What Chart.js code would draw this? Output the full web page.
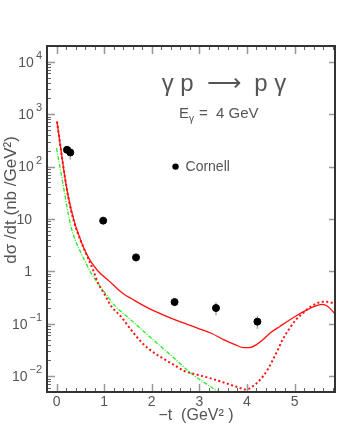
<!DOCTYPE html>
<html>
<head>
<meta charset="utf-8">
<script src="https://cdn.jsdelivr.net/npm/chart.js@4"></script>
<style>
  html, body { margin: 0; padding: 0; background: #fff; }
  #wrap { width: 340px; height: 440px; }
</style>
</head>
<body>
<div id="wrap"><canvas id="chart" width="340" height="440"></canvas></div>
<script>
// Cornell data points (-t in GeV^2, dsigma/dt in nb/GeV^2)
const cornellT = [0.22, 0.29, 0.98, 1.67, 2.48, 3.35, 4.22];
const cornellY = [209, 186, 9.3, 1.85, 0.26, 0.20, 0.11];
const cornellErr = [30, 50, 1.3, 0.3, 0.045, 0.055, 0.03];

// solid red curve
const fullT = [0.01, 0.08, 0.17, 0.25, 0.37, 0.46, 0.58, 0.70, 0.87, 1.10, 1.41, 1.58, 1.80, 2.06, 2.48, 2.96, 3.25, 3.51, 3.75, 3.93, 4.05, 4.20, 4.34, 4.50, 4.69, 5.03, 5.25, 5.48, 5.58, 5.70, 5.86];
const fullY = [724, 251, 68, 26, 9.1, 5.2, 2.7, 1.66, 1.02, 0.66, 0.37, 0.30, 0.23, 0.174, 0.120, 0.083, 0.066, 0.050, 0.040, 0.035, 0.035, 0.040, 0.050, 0.068, 0.089, 0.141, 0.182, 0.224, 0.234, 0.214, 0.151];

// dotted red curve
const dotT = [0.01, 0.08, 0.17, 0.25, 0.37, 0.50, 0.65, 0.78, 0.87, 1.00, 1.13, 1.37, 1.58, 1.79, 2.00, 2.27, 2.50, 2.68, 2.96, 3.31, 3.65, 3.85, 3.96, 4.05, 4.13, 4.22, 4.34, 4.45, 4.55, 4.65, 4.75, 4.90, 5.03, 5.17, 5.31, 5.45, 5.58, 5.68, 5.79, 5.86];
const dotY = [724, 251, 68, 25, 8.7, 4.0, 1.9, 1.0, 0.60, 0.38, 0.23, 0.132, 0.074, 0.044, 0.030, 0.021, 0.0158, 0.0126, 0.0107, 0.0087, 0.0069, 0.0060, 0.0056, 0.0058, 0.0065, 0.0076, 0.0100, 0.0141, 0.021, 0.032, 0.050, 0.083, 0.120, 0.158, 0.204, 0.240, 0.263, 0.263, 0.251, 0.240];

// green dash-dotted curve
const greenT = [0.00, 0.08, 0.17, 0.23, 0.30, 0.40, 0.51, 0.61, 0.72, 0.85, 0.99, 1.23, 1.58, 1.90, 2.27, 2.55, 2.82, 3.10, 3.45];
const greenY = [224, 89, 31, 15.1, 7.4, 3.8, 2.29, 1.48, 0.95, 0.63, 0.42, 0.22, 0.115, 0.063, 0.032, 0.019, 0.0115, 0.0076, 0.0047];

// axis ticks
const xTicks = [0, 1, 2, 3, 4, 5];
const yTicks = [0.01, 0.1, 1, 10, 100, 1000, 10000];
const yTickBase = ['10', '10', '1', '10', '10', '10', '10'];
const yTickExp = ['\u22122', '\u22121', '', '', '2', '3', '4'];

const pts = (xs, ys) => xs.map((v, i) => ({ x: v, y: ys[i] }));

const FONT = '"Liberation Sans", Arial, sans-serif';
const TXT = '#555';

const decor = {
  id: 'decor',
  beforeDatasetsDraw(chart) {
    const { ctx, scales: { x, y } } = chart;
    ctx.save();
    ctx.strokeStyle = '#aaa';
    ctx.lineWidth = 1.5;
    cornellT.forEach((t, i) => {
      const px = x.getPixelForValue(t);
      ctx.beginPath();
      ctx.moveTo(px, y.getPixelForValue(cornellY[i] + cornellErr[i]));
      ctx.lineTo(px, y.getPixelForValue(cornellY[i] - cornellErr[i]));
      ctx.stroke();
    });
    ctx.restore();
  },
  afterDraw(chart) {
    const { ctx, chartArea: a, scales: { x, y } } = chart;
    ctx.save();

    // x ticks, bottom + top
    for (let v = -0.2; v <= 5.85; v += 0.2) {
      const r = Math.round(v * 10) / 10;
      const px = Math.round(x.getPixelForValue(r)) + 0.5;
      const major = Number.isInteger(r);
      const len = major ? 8 : 4;
      ctx.strokeStyle = major ? '#999' : '#666';
      ctx.lineWidth = major ? 1.5 : 1;
      ctx.beginPath();
      ctx.moveTo(px, a.bottom); ctx.lineTo(px, a.bottom - len);
      ctx.moveTo(px, a.top); ctx.lineTo(px, a.top + len);
      ctx.stroke();
    }

    // y ticks (left: major+minor, right: major)
    [0.001].concat(yTicks).forEach((d) => {
      for (let m = 1; m <= 9; m++) {
        const v = d * m;
        if (v < y.min || v > y.max) continue;
        const py = Math.round(y.getPixelForValue(v)) + 0.5;
        const major = m === 1;
        ctx.strokeStyle = major ? '#999' : '#666';
        ctx.lineWidth = major ? 1.5 : 1;
        ctx.beginPath();
        ctx.moveTo(a.left, py); ctx.lineTo(a.left + (major ? 8 : 4), py);
        if (major) { ctx.moveTo(a.right, py); ctx.lineTo(a.right - 6, py); }
        ctx.stroke();
      }
    });

    // frame
    ctx.strokeStyle = '#333';
    ctx.lineWidth = 2;
    ctx.strokeRect(a.left, a.top, a.right - a.left, a.bottom - a.top);

    // x tick labels
    ctx.fillStyle = TXT;
    ctx.font = '14px ' + FONT;
    ctx.textAlign = 'center';
    ctx.textBaseline = 'middle';
    xTicks.forEach((t) => ctx.fillText(String(t), x.getPixelForValue(t), 402));

    // y tick labels with exponents
    yTicks.forEach((v, i) => {
      const py = y.getPixelForValue(v);
      const base = yTickBase[i], ex = yTickExp[i];
      ctx.font = '14px ' + FONT;
      ctx.textBaseline = 'middle';
      ctx.textAlign = 'right';
      if (!ex) {
        ctx.fillText(base, 32, py + 1);
        return;
      }
      ctx.font = '11px ' + FONT;
      const we = ctx.measureText(ex).width;
      ctx.fillText(ex, 42, py - 6);
      ctx.font = '14px ' + FONT;
      ctx.fillText(base, 42 - we - 2, py + 1);
    });

    // axis titles
    ctx.font = '16px ' + FONT;
    ctx.textAlign = 'center';
    ctx.fillText('\u2212t  (GeV\u00b2 )', 196, 416);
    ctx.save();
    ctx.translate(11, 200);
    ctx.rotate(-Math.PI / 2);
    ctx.font = '17px ' + FONT;
    ctx.fillText('d\u03c3 /dt (nb /GeV\u00b2)', 0, 0);
    ctx.restore();

    // process label
    ctx.font = '24px ' + FONT;
    ctx.fillText('\u03b3 p  \u27f6  p \u03b3', 224, 84);

    // beam energy
    ctx.font = '15px ' + FONT;
    ctx.textAlign = 'left';
    ctx.fillText('E', 179, 114);
    ctx.font = '10px ' + FONT;
    ctx.fillText('\u03b3', 189, 119);
    ctx.font = '15px ' + FONT;
    ctx.fillText('=  4 GeV', 199, 114);

    // legend
    const lx = x.getPixelForValue(2.5), ly = y.getPixelForValue(100);
    ctx.fillStyle = '#000';
    ctx.beginPath(); ctx.arc(lx, ly, 3.2, 0, Math.PI * 2); ctx.fill();
    ctx.fillStyle = TXT;
    ctx.font = '14px ' + FONT;
    ctx.fillText('Cornell', lx + 10, ly + 1);

    ctx.restore();
  }
};

new Chart(document.getElementById('chart'), {
  type: 'line',
  data: {
    datasets: [
      {
        label: 'full',
        data: pts(fullT, fullY),
        borderColor: '#ff1010',
        borderWidth: 1.3,
        pointRadius: 0,
        cubicInterpolationMode: 'monotone',
      },
      {
        label: 'dotted',
        data: pts(dotT, dotY),
        borderColor: '#ff1010',
        borderWidth: 2,
        borderDash: [2, 2.5],
        pointRadius: 0,
        cubicInterpolationMode: 'monotone',
      },
      {
        label: 'green',
        data: pts(greenT, greenY),
        borderColor: '#22ee22',
        borderWidth: 1.3,
        borderDash: [4, 1.5, 1, 1.5],
        pointRadius: 0,
        cubicInterpolationMode: 'monotone',
      },
      {
        label: 'Cornell',
        type: 'scatter',
        data: pts(cornellT, cornellY),
        backgroundColor: '#000',
        borderColor: '#000',
        pointRadius: 3.5,
        showLine: false,
      },
    ],
  },
  options: {
    responsive: false,
    animation: false,
    events: [],
    layout: { padding: { top: 46, right: 1, left: 0, bottom: 0 } },
    plugins: { legend: { display: false }, tooltip: { enabled: false } },
    scales: {
      x: {
        type: 'linear',
        min: -0.2,
        max: 5.85,
        grid: { display: false },
        border: { display: false },
        ticks: { display: false },
        afterFit: (s) => { s.height = 48; },
      },
      y: {
        type: 'logarithmic',
        min: 0.005,
        max: 20000,
        grid: { display: false },
        border: { display: false },
        ticks: { display: false },
        afterFit: (s) => { s.width = 47; },
      },
    },
  },
  plugins: [decor],
});
</script>
</body>
</html>
